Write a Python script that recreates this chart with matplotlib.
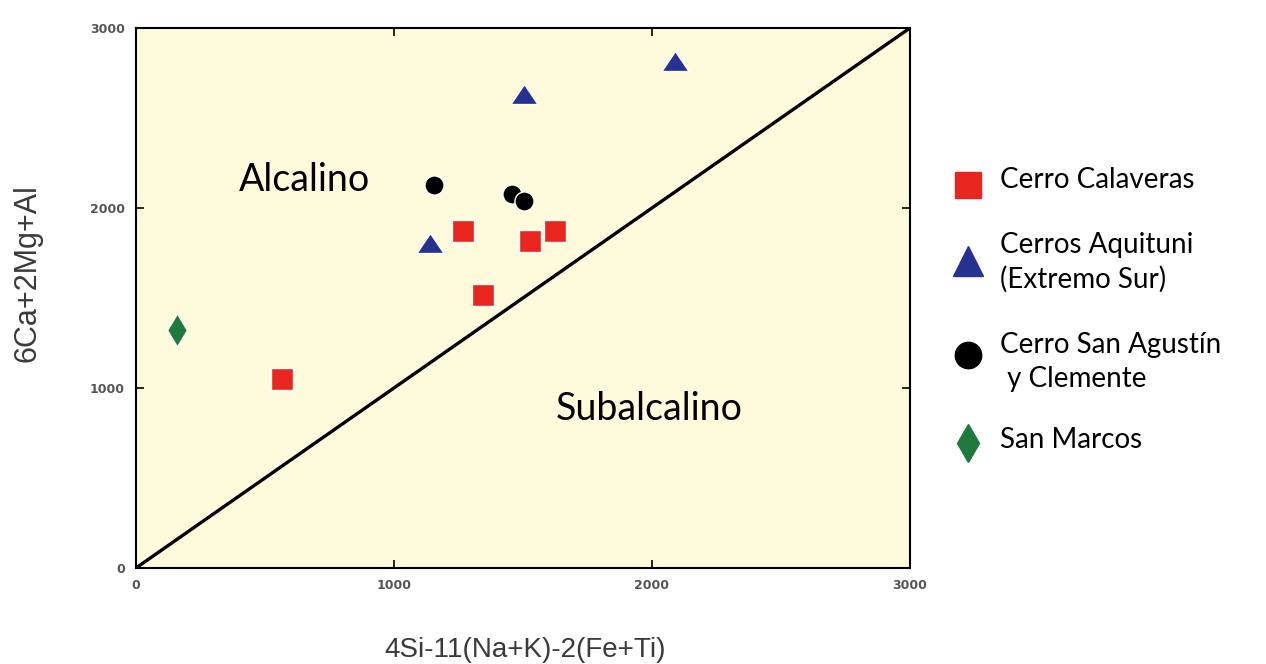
import matplotlib
matplotlib.use("Agg")
import matplotlib.pyplot as plt
from matplotlib.lines import Line2D

# data
calaveras_x = [566, 1267, 1345, 1527, 1624]
calaveras_y = [1050, 1872, 1517, 1817, 1872]
aquituni_x = [1140, 1504, 2089]
aquituni_y = [1803, 2633, 2817]
agustin_x = [1155, 1457, 1505]
agustin_y = [2128, 2078, 2040]
marcos_x = [159]
marcos_y = [1322]

labels = ["Cerro Calaveras", "Cerros Aquituni\n(Extremo Sur)",
          "Cerro San Agustín\n y Clemente", "San Marcos"]
ticks = [0, 1000, 2000, 3000]

W, H = 1266, 664

# flat triangle like the original
tri = [(0, 1), (-1.35, -1), (1.35, -1), (0, 1)]

fig = plt.figure(figsize=(12.66, 6.64), dpi=100)
ax = fig.add_axes([0.1074, 0.1446, 0.6114, 0.8133])
ax.set_facecolor("#FDFBDC")

ax.plot([0, 3000], [0, 3000], color="black", lw=2.4, zorder=2)

ax.scatter(calaveras_x, calaveras_y, marker="s", s=250, color="#E8251F", edgecolors="white", linewidths=1, zorder=3)
ax.scatter(aquituni_x, aquituni_y, marker=tri, s=380, color="#27318F", edgecolors="white", linewidths=1, zorder=3)
ax.scatter(agustin_x, agustin_y, marker="o", s=190, color="black", edgecolors="white", linewidths=1, zorder=3)
ax.scatter(marcos_x, marcos_y, marker="d", s=285, color="#1E7A3A", edgecolors="white", linewidths=1, zorder=3)

ax.text(655, 2155, "Alcalino", fontsize=27, family="Lato", ha="center", va="center")
ax.text(1990, 885, "Subalcalino", fontsize=27, family="Lato", ha="center", va="center")

ax.set_xlim(0, 3000)
ax.set_ylim(0, 3000)
ax.set_xticks(ticks)
ax.set_yticks(ticks)
ax.tick_params(direction="in", top=True, right=True, length=6, width=1.2,
               labelsize=9, labelcolor="#555555", pad=8)
for lab in ax.get_xticklabels() + ax.get_yticklabels():
    lab.set_fontweight("bold")
for sp in ax.spines.values():
    sp.set_linewidth(1.5)

fig.text(525 / W, 1 - 650 / H, "4Si-11(Na+K)-2(Fe+Ti)", fontsize=20,
         family="Liberation Sans", color="#3a3a3a", ha="center", va="center")
fig.text(27 / W, 1 - 273 / H, "6Ca+2Mg+Al", fontsize=22, rotation=90,
         family="Liberation Sans", color="#3a3a3a", ha="center", va="center")

# legend, laid out by hand to the right of the plot
leg_markers = [("s", 19, "#E8251F"), ("^", 22, "#27318F"),
               ("o", 19, "black"), ("d", 19, "#1E7A3A")]
marker_y = [185, 261, 355, 443]
text_y = [180, 262, 362, 440]
for (m, ms, c), my, ty, lab in zip(leg_markers, marker_y, text_y, labels):
    fig.add_artist(Line2D([968 / W], [1 - my / H], ls="none", marker=m, ms=ms,
                          color=c, transform=fig.transFigure))
    fig.text(1000 / W, 1 - ty / H, lab, fontsize=20, family="Lato",
             ha="left", va="center", linespacing=1.35)

fig.savefig("out.png", dpi=100, facecolor="white")
